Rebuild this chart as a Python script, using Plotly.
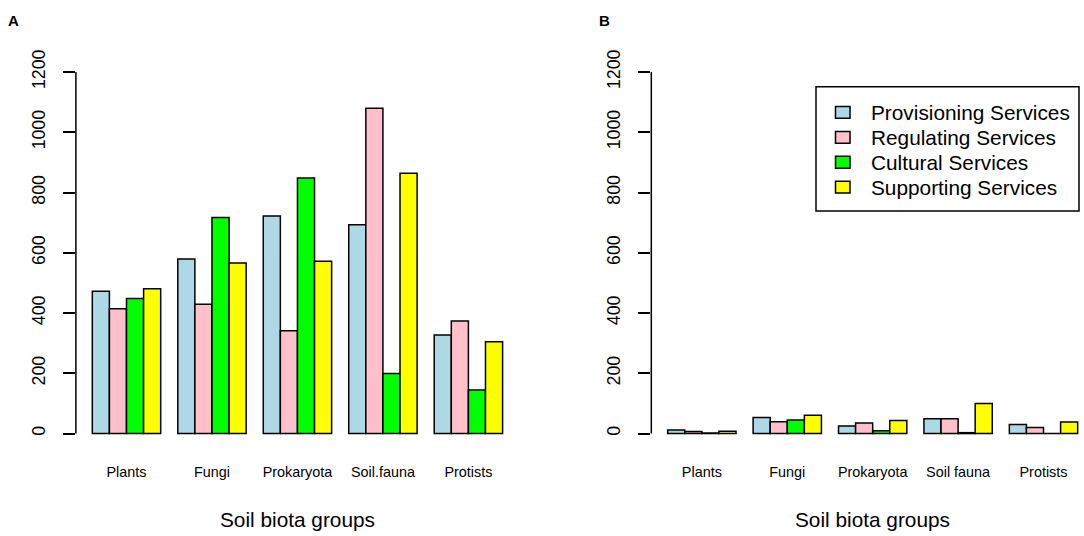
import plotly.graph_objects as go

# panel A (left) data
groups_a = ["Plants", "Fungi", "Prokaryota", "Soil.fauna", "Protists"]
prov_a = [472, 579, 722, 693, 327]
reg_a = [414, 429, 341, 1080, 374]
cult_a = [448, 717, 848, 199, 145]
supp_a = [481, 566, 572, 864, 305]

# panel B (right) data
groups_b = ["Plants", "Fungi", "Prokaryota", "Soil fauna", "Protists"]
prov_b = [12, 53, 25, 49, 30]
reg_b = [7, 39, 35, 49, 20]
cult_b = [2, 45, 9, 3, 0]
supp_b = [8, 61, 43, 100, 38]

services = ["Provisioning Services", "Regulating Services",
            "Cultural Services", "Supporting Services"]
colors = ["#ADD8E6", "#FFC0CB", "#00FF00", "#FFFF00"]

FONT = "Liberation Sans, Arial"
W, H = 1084, 536


def px(x):
    # pixel -> paper fraction (x)
    return x / W


def py(y):
    # pixel (from top) -> paper fraction (y)
    return (H - y) / H


fig = go.Figure()

for name, vals, col in zip(services, [prov_a, reg_a, cult_a, supp_a], colors):
    fig.add_trace(go.Bar(x=groups_a, y=vals, name=name, marker_color=col,
                         marker_line_color="black", marker_line_width=1.5,
                         showlegend=False, xaxis="x", yaxis="y"))

for name, vals, col in zip(services, [prov_b, reg_b, cult_b, supp_b], colors):
    fig.add_trace(go.Bar(x=groups_b, y=vals, name=name, marker_color=col,
                         marker_line_color="black", marker_line_width=1.5,
                         showlegend=False, xaxis="x2", yaxis="y2"))

ydom = [py(446.7), py(50.3)]
xa_dom = [px(75.9), px(519.0)]
xb_dom = [px(651.3), 1.0]

yax = dict(range=[-48, 1248], tickvals=[0, 200, 400, 600, 800, 1000, 1200],
           ticks="outside", ticklen=12, tickwidth=1.5, tickcolor="black",
           tickangle=-90, showgrid=False, zeroline=False, showline=False,
           tickfont=dict(family=FONT, size=17.7, color="black"),
           ticklabelstandoff=11, domain=ydom)
xax = dict(showgrid=False, zeroline=False, showline=False, ticks="",
           tickfont=dict(family=FONT, size=14.4, color="black"),
           ticklabelstandoff=14)

fig.update_layout(
    width=W, height=H,
    margin=dict(l=0, r=0, t=0, b=0),
    paper_bgcolor="white", plot_bgcolor="white",
    barmode="group", bargap=0.2, bargroupgap=0,
    xaxis=dict(xax, domain=xa_dom, range=[-0.592, 4.592], anchor="y"),
    yaxis=dict(yax, anchor="x"),
    xaxis2=dict(xax, domain=xb_dom, range=[-0.592, 4.474], anchor="y2"),
    yaxis2=dict(yax, anchor="x2"),
    showlegend=False,
    font=dict(family=FONT, color="black"),
)

# R-style y axis lines from 0 to 1200
for xr, yr in [("x domain", "y"), ("x2 domain", "y2")]:
    fig.add_shape(type="line", xref=xr, yref=yr, x0=0, x1=0, y0=0, y1=1200,
                  line=dict(color="black", width=1.5))

# legend box (R style) in panel B
fig.add_shape(type="rect", xref="paper", yref="paper",
              x0=px(816), x1=px(1079), y0=py(206), y1=py(80),
              line=dict(color="black", width=1.5), fillcolor="white")
for i, (name, col) in enumerate(zip(services, colors)):
    yc = 106 + 25.3 * i
    fig.add_shape(type="rect", xref="paper", yref="paper",
                  x0=px(835.5), x1=px(850), y0=py(yc + 6), y1=py(yc - 6),
                  line=dict(color="black", width=1.5), fillcolor=col)
    fig.add_annotation(x=px(869), y=py(yc), xref="paper", yref="paper",
                       text=name, showarrow=False, xanchor="left",
                       yanchor="middle",
                       font=dict(size=20.8, family=FONT, color="black"))

# axis titles and panel letters
for xc in [297.5, 872.7]:
    fig.add_annotation(x=px(xc), y=py(519), xref="paper", yref="paper",
                       text="Soil biota groups", showarrow=False,
                       font=dict(size=20.8, family=FONT, color="black"),
                       xanchor="center", yanchor="middle")
for txt, xp in [("A", 13), ("B", 604)]:
    fig.add_annotation(x=px(xp), y=py(13), xref="paper", yref="paper",
                       text="<b>" + txt + "</b>", showarrow=False,
                       font=dict(size=15, family=FONT, color="black"),
                       xanchor="center", yanchor="middle")

# drop the default 8px page margin so the figure fills the window
fig.write_html("out.html", config={"displayModeBar": False},
               post_script="document.body.style.margin='0px';"
                           "document.body.style.overflow='hidden';")
